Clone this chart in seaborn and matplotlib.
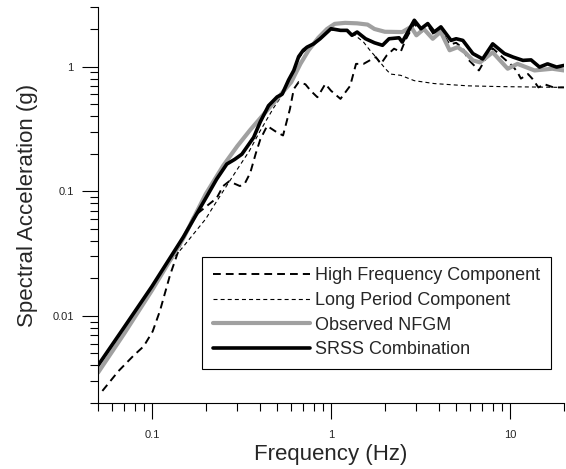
"""
Spectral acceleration of the NFGM components, log-log
"""
import matplotlib
matplotlib.use('Agg')
import matplotlib.pyplot as plt
import seaborn as sns
import pandas as pd
from matplotlib.ticker import LogLocator, FuncFormatter, NullFormatter

# High Frequency Component (thick dashed)
hf_freq = [0.0529, 0.065, 0.079, 0.09, 0.101, 0.111, 0.126, 0.147, 0.17, 0.2, 0.23, 0.25, 0.27,
           0.31, 0.33, 0.354, 0.38, 0.403, 0.44, 0.5, 0.54, 0.59, 0.62, 0.66, 0.72, 0.77, 0.84,
           0.93, 1.0, 1.13, 1.28, 1.38, 1.52, 1.7, 1.78, 1.9, 2.05, 2.25, 2.45, 2.6, 2.92, 3.2,
           3.5, 3.8, 4.1, 4.6, 5.0, 5.45, 5.8, 6.3, 6.7, 7.3, 8.0, 9.3, 10.4, 11.0, 11.5, 12.6,
           13.3, 14.4, 15.6, 17.5, 20.0]
hf_sa = [0.0025, 0.0036, 0.0048, 0.0057, 0.0075, 0.011, 0.021, 0.04, 0.062, 0.075, 0.088, 0.11, 0.12,
         0.11, 0.115, 0.14, 0.2, 0.26, 0.334, 0.296, 0.28, 0.456, 0.66, 0.75, 0.72, 0.64, 0.567,
         0.725, 0.64, 0.55, 0.70, 1.05, 1.05, 1.15, 1.19, 1.05, 1.23, 1.39, 1.31, 1.62, 2.2, 1.9,
         2.1, 1.75, 1.95, 1.5, 1.55, 1.4, 1.15, 1.02, 0.93, 1.15, 1.4, 1.15, 1.0, 0.9, 0.8, 0.87,
         0.8, 0.68, 0.72, 0.68, 0.68]

# Long Period Component (thin dashed)
lp_freq = [0.05, 0.07, 0.1, 0.126, 0.15, 0.17, 0.2, 0.22, 0.25, 0.3, 0.35, 0.4, 0.44, 0.48, 0.53,
           0.6, 0.66, 0.7, 0.8, 0.9, 1.0, 1.1, 1.2, 1.35, 1.52, 1.65, 1.82, 2.0, 2.15, 2.45, 2.92,
           3.77, 5.8, 8.9, 20.0]
lp_sa = [0.0039, 0.0079, 0.0168, 0.027, 0.036, 0.045, 0.06, 0.075, 0.1, 0.15, 0.21, 0.3, 0.38, 0.47,
         0.58, 0.85, 1.15, 1.3, 1.5, 1.75, 1.95, 1.98, 1.95, 1.8, 1.57, 1.35, 1.15, 0.97, 0.87, 0.85,
         0.77, 0.73, 0.70, 0.69, 0.68]

# Observed NFGM (grey)
obs_freq = [0.05, 0.07, 0.1, 0.15, 0.2, 0.25, 0.3, 0.354, 0.4, 0.5, 0.6, 0.675, 0.75, 0.85, 0.95,
            1.05, 1.2, 1.4, 1.6, 1.75, 2.0, 2.5, 2.8, 3.0, 3.3, 3.7, 4.1, 4.6, 5.1, 5.6, 6.2, 6.8,
            8.0, 9.7, 11.0, 13.7, 17.2, 20.0]
obs_sa = [0.0035, 0.0072, 0.016, 0.042, 0.095, 0.16, 0.23, 0.31, 0.38, 0.55, 0.75, 1.05, 1.35, 1.7,
          2.0, 2.2, 2.24, 2.22, 2.17, 2.0, 1.9, 1.89, 2.08, 1.78, 2.0, 1.67, 1.9, 1.35, 1.43, 1.3,
          1.12, 1.08, 1.3, 0.96, 1.05, 0.93, 0.96, 0.93]

# SRSS Combination (black)
srss_freq = [0.05, 0.07, 0.1, 0.126, 0.15, 0.2, 0.23, 0.262, 0.29, 0.318, 0.37, 0.403, 0.448, 0.5,
             0.534, 0.58, 0.62, 0.66, 0.70, 0.735, 0.80, 0.87, 1.0, 1.13, 1.23, 1.31, 1.40, 1.56,
             1.75, 1.94, 2.11, 2.40, 2.5, 2.92, 3.18, 3.47, 3.77, 4.11, 4.68, 5.0, 5.45, 6.2, 7.03,
             8.0, 9.3, 10.4, 11.8, 13.1, 14.6, 16.2, 18.2, 20.0]
srss_sa = [0.004, 0.0081, 0.0172, 0.029, 0.043, 0.088, 0.125, 0.165, 0.18, 0.198, 0.27, 0.36, 0.485,
           0.57, 0.60, 0.78, 0.93, 1.2, 1.35, 1.43, 1.52, 1.67, 2.01, 1.95, 1.95, 1.78, 1.89, 1.67,
           1.55, 1.48, 1.67, 1.70, 1.57, 2.35, 2.01, 2.21, 1.89, 2.08, 1.62, 1.67, 1.62, 1.27, 1.15,
           1.52, 1.27, 1.19, 1.12, 1.13, 0.99, 1.05, 0.99, 1.02]

sns.set_style('ticks')
plt.rcParams['font.family'] = ['Liberation Sans', 'DejaVu Sans']

fig = plt.figure(figsize=(5.66, 4.69), dpi=100)
ax = fig.add_axes([0.1731, 0.1407, 0.8233, 0.8443])

series = [
    (hf_freq, hf_sa, 'High Frequency Component', dict(color='black', lw=1.4, linestyle=(0, (4, 2.6)))),
    (lp_freq, lp_sa, 'Long Period Component', dict(color='black', lw=0.8, linestyle=(0, (3.6, 2.8)))),
    (obs_freq, obs_sa, 'Observed NFGM', dict(color='#a0a0a0', lw=3.0, solid_capstyle='round')),
    (srss_freq, srss_sa, 'SRSS Combination', dict(color='black', lw=2.6, solid_capstyle='round')),
]
for freq, sa, name, style in series:
    df = pd.DataFrame({'freq': freq, 'sa': sa})
    sns.lineplot(data=df, x='freq', y='sa', ax=ax, label=name, **style)

ax.set_xscale('log')
ax.set_yscale('log')
ax.set_xlim(0.05, 20)
ax.set_ylim(0.002, 3)

fmt = FuncFormatter(lambda v, pos: f'{v:g}')
for axis in (ax.xaxis, ax.yaxis):
    axis.set_major_locator(LogLocator(base=10))
    axis.set_minor_locator(LogLocator(base=10, subs=range(2, 10)))
    axis.set_major_formatter(fmt)
    axis.set_minor_formatter(NullFormatter())

sns.despine(ax=ax)
for side in ('left', 'bottom'):
    ax.spines[side].set_linewidth(0.8)
    ax.spines[side].set_color('black')
ax.tick_params(which='major', direction='out', length=11.5, width=0.8, color='black', labelsize=8)
ax.tick_params(which='minor', direction='out', length=5.8, width=0.8, color='black')
ax.tick_params(axis='x', which='major', pad=8)
ax.tick_params(axis='y', which='major', pad=6)

ax.set_xlabel('Frequency (Hz)', fontsize=16, labelpad=3)
ax.set_ylabel('Spectral Acceleration (g)', fontsize=16, labelpad=10)

leg = ax.legend(loc='lower left', bbox_to_anchor=(0.223, 0.086), borderaxespad=0,
                frameon=True, fancybox=False, edgecolor='black', framealpha=1,
                fontsize=13, handlelength=5.4, handletextpad=0.25, labelspacing=0.42,
                borderpad=0.6)
leg.get_frame().set_linewidth(0.8)

fig.savefig('out.png', dpi=100)
